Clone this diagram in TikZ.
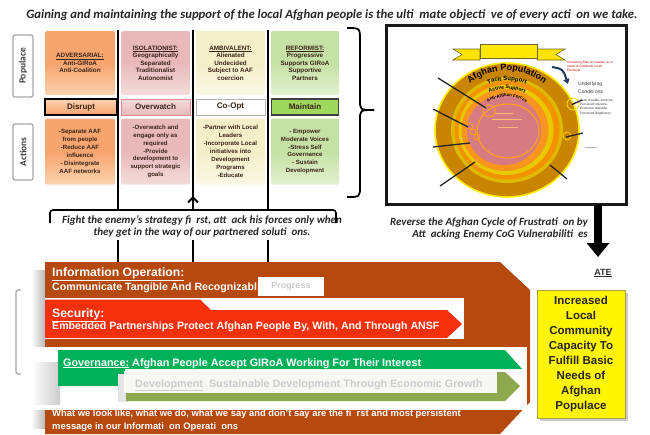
\documentclass[tikz,border=0pt]{standalone}
\usepackage{fontspec}
\setmainfont{Carlito}
\newfontfamily\arialf{Liberation Sans}
\usetikzlibrary{arrows.meta,decorations.text}
\definecolor{cOrA}{HTML}{F7A46E}
\definecolor{cOrB}{HTML}{FBD3B0}
\definecolor{cPkA}{HTML}{E8B9BB}
\definecolor{cPkB}{HTML}{F5DCDC}
\definecolor{cCrA}{HTML}{F4EFC8}
\definecolor{cCrB}{HTML}{FBF8E6}
\definecolor{cGrA}{HTML}{C6E1A5}
\definecolor{cGrB}{HTML}{E2F0D0}
\definecolor{cMaint}{HTML}{9ED85C}
\definecolor{cBrown}{HTML}{B5490E}
\definecolor{cRed}{HTML}{F5300C}
\definecolor{cGreen}{HTML}{00B15A}
\definecolor{cOlive}{HTML}{8FA84E}
\definecolor{cYellow}{HTML}{FFF500}
\definecolor{ringA}{HTML}{C98400}
\definecolor{ringB}{HTML}{DDBA00}
\definecolor{ringC}{HTML}{F39200}
\definecolor{ringD}{HTML}{E8C800}
\definecolor{ringE}{HTML}{F7951E}
\definecolor{ringPink}{HTML}{D77B82}
\definecolor{textCol}{HTML}{3A2418}
\definecolor{navyArr}{HTML}{1F3864}
\begin{document}
\begin{tikzpicture}[x=1pt,y=-1pt,
  colbox/.style={minimum height=64pt, inner sep=1pt, rounded corners=1.5pt, align=center,
     font=\arialf\bfseries\fontsize{6.3}{7.5}\selectfont, text=textCol},
  actbox/.style={minimum height=66pt, inner sep=1pt, rounded corners=1.5pt, align=center,
     font=\arialf\bfseries\fontsize{6.1}{7.9}\selectfont, text=textCol},
  rolebox/.style={minimum height=16pt, inner sep=0pt, font=\arialf\bfseries\fontsize{8}{8}\selectfont, text=textCol},
  sidelab/.style={draw=gray!70, line width=1.2pt, rounded corners=2pt, fill=white, rotate=90,
     minimum height=20pt, inner sep=0pt, font=\bfseries\fontsize{9.5}{9.5}\selectfont, text=black!75},
  vline/.style={line width=2.4pt, black},
  bartext/.style={anchor=base west, inner sep=0pt, text=white, font=\arialf\bfseries\fontsize{10.6}{12}\selectfont},
  bartitle/.style={anchor=base west, inner sep=0pt, text=white, font=\arialf\bfseries\fontsize{12.2}{13}\selectfont},
  pointer/.style={line width=1.3pt, black!85},
  slogan/.style={font=\bfseries\itshape\fontsize{11}{12}\selectfont, text=black!85, inner sep=0pt}
]
\useasboundingbox (0,0) rectangle (650,434);

% ---------- subtitle ----------
\node[font=\bfseries\itshape\fontsize{12.7}{13}\selectfont, text=black!85, inner sep=0pt] (title) at (332,15)
  {Gaining and maintaining the support of the local Afghan people is the ulti\ \ mate objecti\ \ ve of every acti\ \ on we take.};

% ---------- side labels ----------
\node[sidelab, minimum width=62pt] (pop) at (23,66) {Populace};
\node[sidelab, minimum width=56pt] (act) at (23,152) {Actions};

% ---------- header row ----------
\node[colbox, minimum width=70pt, top color=cOrA, bottom color=cOrB, middle color=cOrA] (h1) at (80,63)
  {\underline{ADVERSARIAL:}\\Anti-GIRoA\\Anti-Coalition};
\node[colbox, minimum width=69pt, top color=cPkA, bottom color=cPkB, middle color=cPkA] (h2) at (155.5,63)
  {\underline{ISOLATIONIST:}\\Geographically\\Separated\\Traditionalist\\Autonomist};
\node[colbox, minimum width=69pt, top color=cCrA, bottom color=cCrB, middle color=cCrA] (h3) at (230.5,63)
  {\underline{AMBIVALENT:}\\Alienated\\Undecided\\Subject to AAF\\coercion};
\node[colbox, minimum width=68pt, top color=cGrA, bottom color=cGrB, middle color=cGrA] (h4) at (305,63)
  {\underline{REFORMIST:}\\Progressive\\Supports GIRoA\\Supportive\\Partners};

% ---------- role row ----------
\node[rolebox, minimum width=72pt, top color=cOrB, bottom color=cOrA, draw=black, line width=1.6pt] (r1) at (81,107) {Disrupt};
\node[rolebox, minimum width=69pt, top color=cPkB, bottom color=cPkA, draw=red!45] (r2) at (155.5,107) {Overwatch};
\node[rolebox, minimum width=69pt, fill=white, draw=gray!60] (r3) at (230.5,107) {Co-Opt};
\node[rolebox, minimum width=67pt, fill=cMaint, draw=black!75, line width=1.6pt] (r4) at (305,107) {Maintain};

% ---------- actions row ----------
\node[actbox, minimum width=70pt, top color=cOrA, bottom color=cOrB, middle color=cOrA] (a1) at (80,151.5)
  {-Separate AAF\\from people\\-Reduce AAF\\influence\\- Disintegrate\\AAF networks};
\node[actbox, minimum width=69pt, top color=cPkA, bottom color=cPkB, middle color=cPkA] (a2) at (155.5,151.5)
  {-Overwatch and\\engage only as\\required\\-Provide\\development to\\support strategic\\goals};
\node[actbox, minimum width=69pt, top color=cCrA, bottom color=cCrB, middle color=cCrA] (a3) at (230.5,151.5)
  {-Partner with Local\\Leaders\\-Incorporate Local\\initiatives into\\Development\\Programs\\-Educate};
\node[actbox, minimum width=68pt, top color=cGrA, bottom color=cGrB, middle color=cGrA] (a4) at (305,151.5)
  {- Empower\\Moderate Voices\\-Stress Self\\Governance\\- Sustain\\Development};

% ---------- vertical lines ----------
\coordinate (v1t) at (118,30); \coordinate (v1b) at (118,210);
\coordinate (v2t) at (193,30); \coordinate (v2b) at (193,210);
\coordinate (v3t) at (268,30); \coordinate (v3b) at (268,210);
\draw[vline] (v1t) -- (v1b);
\draw[vline] (v2t) -- (v2b);
\draw[vline] (v3t) -- (v3b);
\coordinate (arrS) at (193,207); \coordinate (arrE) at (193,196);
\draw[line width=2pt, -{Straight Barb[length=5pt,width=10pt]}] (arrS) -- (arrE);

% ---------- brace on the right ----------
\coordinate (brT) at (347,28); \coordinate (brTip) at (374,110); \coordinate (brB) at (347,197);
\draw[line width=1.8pt] (brT) .. controls (360,28) .. (360,40) -- (360,100) .. controls (360,110) .. (brTip);
\draw[line width=1.8pt] (brTip) .. controls (360,110) .. (360,120) -- (360,186) .. controls (360,197) .. (brB);

% ---------- fight slogan with bracket ----------
\coordinate (bkL) at (50,223); \coordinate (bkR) at (336,223);
\draw[line width=1.6pt, rounded corners=3pt] (bkL) -- (50,210) -- (336,210) -- (bkR);
\node[slogan, align=center] (fight) at (202,226)
  {Fight the enemy’s strategy fi\ \ rst, att\ \ ack his forces only when\\they get in the way of our partnered soluti\ \ ons.};

% ---------- big brown arrow ----------
\fill[left color=white, right color=gray!55] (31,270) rectangle (45,428);
\fill[cBrown] (45,262) -- (500,262) -- (530,290) -- (530,402) -- (500,434) -- (45,434) -- cycle;
\coordinate (w1t) at (118,240); \coordinate (w1b) at (118,262);
\coordinate (w2t) at (193,240); \coordinate (w2b) at (193,262);
\coordinate (w3t) at (268,240); \coordinate (w3b) at (268,262);
\draw[vline] (w1t) -- (w1b);
\draw[vline] (w2t) -- (w2b);
\draw[vline] (w3t) -- (w3b);

% left grey bracket
\draw[gray!70, line width=1.3pt, rounded corners=2pt] (21,290) -- (16,290) -- (16,374) -- (21,374);

% Information Operation
\node[bartitle] (iot) at (52,276) {\underline{Information Operation:}};
\node[bartext] (iotx) at (52,290.5) {Communicate Tangible And Recognizabl};
\node[fill=white, minimum width=66pt, minimum height=19pt, inner sep=0pt,
      font=\arialf\bfseries\fontsize{9}{9}\selectfont, text=gray!40] (prog) at (291,286.5) {Progress};

% Security
\fill[white] (45,298) rectangle (464,339);
\fill[cRed] (45,299.5) -- (200,299.5) -- (211,310) -- (447,310) -- (462,324) -- (447,338) -- (45,338) -- cycle;
\node[bartitle] (sect) at (52,317) {\underline{Security:}};
\node[bartext] (secx) at (52,329) {Embedded Partnerships Protect Afghan People By, With, And Through ANSF};

% bottom slogan
\node[bartext, font=\arialf\bfseries\fontsize{9.4}{10}\selectfont] (msg1) at (52,416.5)
  {What we look like, what we do, what we say and don’t say are the fi\ \ rst and most persistent};
\node[bartext, font=\arialf\bfseries\fontsize{9.4}{10}\selectfont] (msg2) at (52,429)
  {message in our Informati\ \ on Operati\ \ ons};

% Governance / Development
\fill[white] (30,347) rectangle (527,410);
\fill[left color=white, right color=gray!40] (32,362) rectangle (60,404);
\fill[cGreen] (58,350) -- (505,350) -- (522,369) -- (125,369) -- (125,386) -- (58,386) -- cycle;
\fill[gray!20] (118,374) rectangle (128,402);
\fill[cOlive] (126,372) -- (505,372) -- (520,386) -- (505,401) -- (126,401) -- cycle;
\fill[white, opacity=0.93] (124,371) rectangle (497,393);
\node[bartext, font=\arialf\bfseries\fontsize{10.8}{12}\selectfont] (govt) at (63,366)
  {\underline{Governance:}\ Afghan People Accept GIRoA Working For Their Interest};
\node[bartext, text=gray!40, font=\arialf\bfseries\fontsize{10.8}{12}\selectfont] (devt) at (135,387)
  {\underline{Development}\ \ Sustainable Development Through Economic Growth};

% ---------- right framed picture ----------
\node[draw=black!90, line width=2.6pt, fill=white, minimum width=240pt, minimum height=179pt, inner sep=0pt] (frame) at (506.5,115) {};

\fill[ringA, draw=yellow!95!orange, line width=1.6pt] (507,130) ellipse[x radius=72, y radius=67];
\fill[ringB] (507,130) ellipse[x radius=56, y radius=53];
\fill[ringC] (507,130) ellipse[x radius=52.5, y radius=49.5];
\fill[ringD] (506,130) ellipse[x radius=47.5, y radius=45];
\fill[ringE] (505,130) ellipse[x radius=43.5, y radius=41];
\fill[ringPink] (504,130) ellipse[x radius=37, y radius=35];
\draw[orange!70!yellow, line width=1pt] (508,131) ellipse[x radius=31, y radius=27];
\draw[orange!70!yellow, line width=0.8pt] (489,111) circle[radius=6];
\draw[orange!70!yellow, line width=0.7pt] (470,126) circle[radius=3];
\draw[orange!70!yellow, line width=0.7pt] (473,132) circle[radius=3];
\draw[orange!70!yellow, line width=0.7pt] (477,137) circle[radius=3];
\draw[yellow!80!orange, line width=0.8pt] (573,104) circle[radius=6];
\draw[yellow!80!orange, line width=0.7pt] (567,136) circle[radius=4];
\draw[orange!55!white, line width=1pt] (495,113) -- (513,113);
\draw[orange!55!white, line width=1pt] (492,119.5) -- (522,119.5);
\draw[orange!55!white, line width=1pt] (498,127) -- (518,127);

% banner
\fill[yellow!85!orange, draw=olive!70!black, line width=0.6pt] (480,49) -- (453,49) -- (462,54.5) -- (453,60) -- (480,60) -- cycle;
\fill[yellow!85!orange, draw=olive!70!black, line width=0.6pt] (537,49) -- (565,49) -- (556,54.5) -- (565,60) -- (537,60) -- cycle;
\fill[yellow!90!orange, draw=olive!70!black, line width=0.6pt] (480,44) rectangle (537,58);

% arc texts
\path[decorate, decoration={text along path, text align=center,
  text={|\arialf\bfseries\fontsize{9}{9}\selectfont|Afghan Population}}]
  (447.5,130) arc[start angle=180, end angle=360, radius=59.5];
\path[decorate, decoration={text along path, text align=center,
  text={|\arialf\bfseries\fontsize{6}{6}\selectfont|Tacit Support}}]
  (457.5,130) arc[start angle=180, end angle=360, radius=49.5];
\path[decorate, decoration={text along path, text align=center,
  text={|\arialf\bfseries\fontsize{5.1}{5.1}\selectfont|Active Support}}]
  (466,130) arc[start angle=180, end angle=360, radius=41];
\path[decorate, decoration={text along path, text align=center,
  text={|\arialf\bfseries\fontsize{4.4}{4.4}\selectfont|Anti-Afghan Forces}}]
  (473.5,130) arc[start angle=180, end angle=360, radius=33.5];

% pointers
\draw[pointer] (438,78) -- (486,108);
\draw[pointer] (433,109) -- (468,127);
\draw[pointer] (433,147) -- (470,143);
\draw[pointer] (440,186) -- (475,162);
\draw[pointer] (582,100) -- (572,104.5);
\draw[pointer] (583,133) -- (566,137);
\draw[pointer] (567,179) -- (550,165);

% curved arrow
\coordinate (caS) at (552,67); \coordinate (caE) at (568,84);
\draw[navyArr, line width=2pt, -{Triangle[length=5pt,width=6pt]}] (caS) .. controls (563,69) .. (caE);

% annotations
\node[anchor=north west, inner sep=0pt, align=left, text=red!75!black,
      font=\arialf\fontsize{3.2}{3.8}\selectfont] (ann1) at (567,61) {Increasing Bias on Gaudie, as a\\result of Gradients on all\\Elements};
\node[anchor=north west, inner sep=0pt, align=left, text=black!80,
      font=\arialf\fontsize{5}{8}\selectfont] (ann2) at (578,82) {Underlying\\Conditi\ ons};
\node[anchor=north west, inner sep=0pt, align=left, text=black!80,
      font=\arialf\fontsize{3.2}{4.2}\selectfont] (ann3) at (580,99) {Lack of public services,\\Perceived injustice,\\Economic disparity,\\Perceived illegitimacy};
\draw[gray!60, line width=0.8pt] (585,147) -- (597,147);

% ---------- reverse text + arrow ----------
\node[slogan, align=right, anchor=east] (rev) at (588,229)
  {Reverse the Afghan Cycle of Frustrati\ \ on by\\Att\ \ acking Enemy CoG Vulnerabiliti\ \ es};
\coordinate (daS) at (598,205); \coordinate (daE) at (598,257);
\draw[line width=8.5pt, -{Triangle[length=14pt,width=22pt]}] (daS) -- (daE);
\node[font=\arialf\bfseries\fontsize{9}{9}\selectfont, text=black!80, inner sep=0pt] (ate) at (603,273) {\underline{ATE}};

% ---------- yellow result box ----------
\fill[gray!40] (540,293) rectangle (628,421);
\node[fill=cYellow, draw=yellow!60!black, line width=0.5pt, minimum width=88pt, minimum height=128pt, inner sep=0pt,
      align=center, font=\arialf\bfseries\fontsize{11.5}{15}\selectfont, text=black!85] (need) at (581,354)
  {Increased\\Local\\Community\\Capacity To\\Fulfill Basic\\Needs of\\Afghan\\Populace};
\end{tikzpicture}
\end{document}
